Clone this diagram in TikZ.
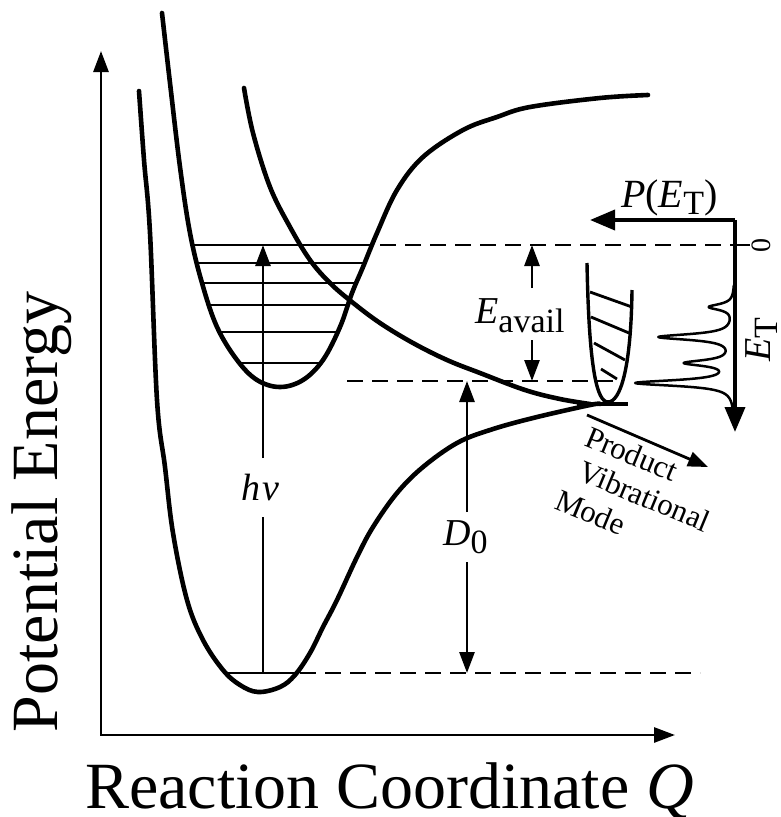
\documentclass[tikz,border=0pt]{standalone}
\usepackage{fontspec}
\setmainfont{Liberation Serif}
\usetikzlibrary{arrows.meta}
\newcommand\lblsz{\fontsize{38}{40}\selectfont}
\newcommand\subsz{\fontsize{34}{36}\selectfont}
\newcommand\axsz{\fontsize{66}{70}\selectfont}
\newcommand\pvsz{\fontsize{31}{33}\selectfont}
\newcommand\zsz{\fontsize{28}{30}\selectfont}
\tikzset{
  curve/.style={line width=4.6pt, line join=round, line cap=round},
  level/.style={line width=2.8pt},
  dashline/.style={line width=2.8pt, dash pattern=on 16pt off 9pt},
  arr/.style={line width=2.8pt, -{Triangle[length=21pt,width=15pt]}},
  bigarr/.style={line width=3.8pt, -{Triangle[length=25pt,width=20pt]}},
  lbl/.style={font=\lblsz, inner sep=0pt},
}
\begin{document}
\begin{tikzpicture}[x=1pt,y=-1pt]
\useasboundingbox (0,0) rectangle (780,817);

% axes
\coordinate (O) at (101,735);
\coordinate (Ytip) at (101,51);
\coordinate (Xtip) at (675,735);
\draw[line width=2.8pt, {Triangle[length=21pt,width=15pt]}-{Triangle[length=21pt,width=15pt]}] (Ytip) -- (O) -- (Xtip);
\node[anchor=base, rotate=90, font=\axsz, inner sep=0pt] (ylab) at (57,512) {Potential Energy};
\node[anchor=base west, font=\axsz, inner sep=0pt] (xlab) at (85,808) {Reaction Coordinate \textit{Q}};

% ground state curve A
\def\curveA{(139,91) (144,160) (150,233) (157,400) (165,467) (173,533) (187,600) (203,640) (223,670) (240,685) (258,692) (280,687) (295,675) (310,653) (323,627) (337,600) (357,557) (373,527) (397,493) (423,467) (457,443) (490,430) (533,418) (590,405) (600,404)}
% excited bound curve B
\def\curveB{(162,13) (170,83) (180,167) (190,233) (202,283) (217,327) (237,360) (257,380) (280,387) (303,380) (323,360) (340,327) (352,293) (363,267) (377,233) (397,190) (423,157) (463,130) (497,117) (530,107) (600,98) (648,95)}

\draw[curve] plot[smooth, tension=0.6] coordinates {\curveA};
\draw[curve] plot[smooth, tension=0.6] coordinates {\curveB};
% repulsive curve C
\draw[curve] plot[smooth, tension=0.6] coordinates {(244,88) (253,133) (270,187) (290,227) (310,260) (330,283) (352,302) (380,323) (413,343) (447,360) (480,373) (525,390) (560,399) (590,404)};

% vibrational levels in excited well
\begin{scope}
\clip plot[smooth, tension=0.6] coordinates {\curveB};
\foreach \yy in {245,263,283,305,332,363} \draw[level] (140,\yy) -- (440,\yy);
\end{scope}
% ground level
\begin{scope}
\clip plot[smooth, tension=0.6] coordinates {\curveA};
\draw[level] (200,673) -- (320,673);
\end{scope}

% dashed lines
\draw[dashline] (380,245) -- (735,245);
\draw[dashline] (347,381) -- (617,381);
\draw[dashline] (300,673) -- (700,673);

% h nu arrow
\coordinate (hnuB) at (263,673);
\coordinate (hnuT) at (263,245);
\node[lbl, anchor=base] (hnu) at (260,500) {\textit{h\kern2pt ν}};
\draw[level] (hnuB) -- (263,517);
\draw[arr] (263,458) -- (hnuT);

% D0 arrow
\coordinate (d0T) at (467,381);
\coordinate (d0B) at (467,673);
\node[lbl, anchor=base west] (d0) at (443,545) {\textit{D}\raisebox{-8pt}{\subsz 0}};
\draw[arr] (467,512) -- (d0T);
\draw[arr] (467,562) -- (d0B);

% E avail arrow
\coordinate (eaT) at (532,245);
\coordinate (eaB) at (532,381);
\node[lbl, anchor=base west] (eav) at (475,323) {\textit{E}\raisebox{-9pt}{\subsz avail}};
\draw[arr] (532,288) -- (eaT);
\draw[arr] (532,340) -- (eaB);

% product well
\draw[line width=3.8pt] (577,404) -- (628,404);
\draw[line width=3.4pt, line join=round] (587,263) .. controls (589,370) and (597,402) .. (608,402) .. controls (620,402) and (631,370) .. (632,290);
\draw[level] (590,292) -- (632,307);
\draw[level] (591,317) -- (629,333);
\draw[level] (594,343) -- (625,360);
\draw[level] (601,369) -- (617,379);

% product vibrational mode arrow and text
\coordinate (pvA) at (587,415);
\coordinate (pvB) at (708,467);
\draw[line width=2.8pt, -{Triangle[length=20pt,width=15pt]}] (pvA) -- (pvB);
\node[font=\pvsz, inner sep=0pt, anchor=base west, rotate=-22.5] (pv1) at (583,445) {Product};
\node[font=\pvsz, inner sep=0pt, anchor=base west, rotate=-22.5] (pv2) at (576,479) {Vibrational};
\node[font=\pvsz, inner sep=0pt, anchor=base west, rotate=-22.5] (pv3) at (553,508) {Mode};

% P(E_T) axes
\coordinate (pO) at (735,220);
\coordinate (pL) at (590,220);
\coordinate (pD) at (735,432);
\draw[bigarr] (pO) -- (pL);
\draw[bigarr] (pO) -- (pD);
\draw[level] (735,245) -- (750,245);
\node[font=\zsz, inner sep=0pt, anchor=base, rotate=90] (zero) at (770,245) {0};
\node[font=\fontsize{40}{42}\selectfont, inner sep=0pt, anchor=base west] (pet) at (621,207) {\textit{P}(\textit{E}\raisebox{-7pt}{\subsz T})};
\node[lbl, anchor=base west, rotate=90] (et) at (770,362) {\textit{E}\raisebox{-7pt}{\subsz T}};

% distribution peaks
\draw[line width=2.5pt, line join=round] plot[domain=285:425, samples=281]
  ({735-25/(1+((\x-307)/3.5)^2)-75/(1+((\x-337)/3.5)^2)-47/(1+((\x-363)/3.5)^2)-98/(1+((\x-383)/3.5)^2)}, {\x});
\end{tikzpicture}
\end{document}
